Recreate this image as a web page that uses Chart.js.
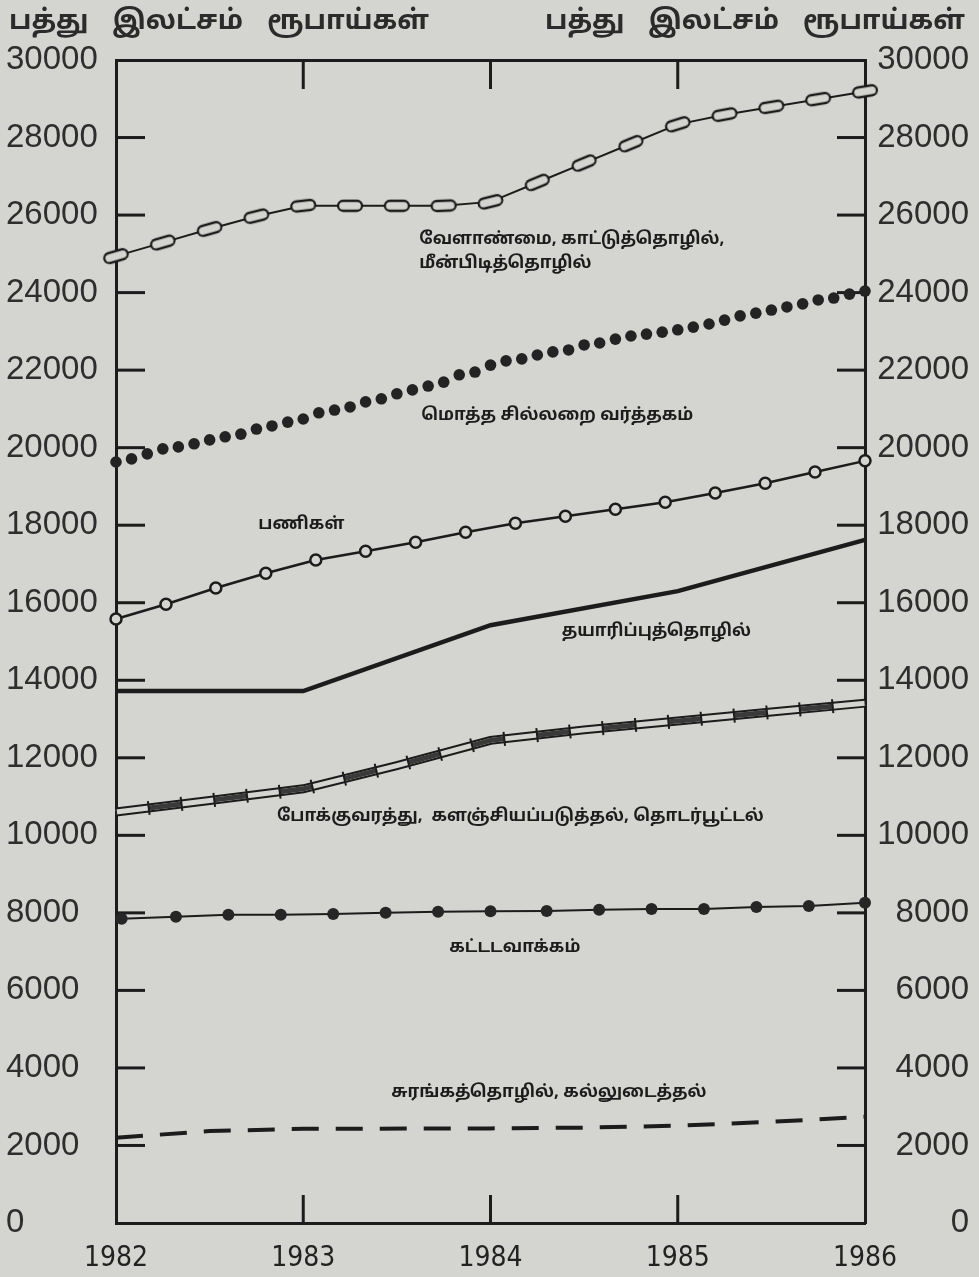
<!DOCTYPE html>
<html>
<head>
<meta charset="utf-8">
<script src="https://cdn.jsdelivr.net/npm/chart.js@4.4.1/dist/chart.umd.min.js"></script>
<style>
  html, body { margin: 0; padding: 0; background: #d4d4d1; }
  #wrap { position: relative; width: 979px; height: 1277px; }
  .unit {
    position: absolute; top: 6px; white-space: nowrap; color: #2b2b2b;
    font: bold 27px 'Noto Sans Tamil', 'Lohit Tamil', 'Noto Sans', sans-serif;
    word-spacing: 17px;
  }
</style>
</head>
<body>
<div id="wrap">
  <canvas id="chart"></canvas>
  <div class="unit" style="left:9px">பத்து இலட்சம் ரூபாய்கள்</div>
  <div class="unit" style="right:14px">பத்து இலட்சம் ரூபாய்கள்</div>
</div>
<script>
// tick labels
const yearLabels = [1982, 1983, 1984, 1985, 1986];
const valueTicks = [0, 2000, 4000, 6000, 8000, 10000, 12000, 14000, 16000, 18000, 20000, 22000, 24000, 26000, 28000, 30000];

// series names (written on the chart)
const seriesNames = [
  'வேளாண்மை, காட்டுத்தொழில்,\nமீன்பிடித்தொழில்',
  'மொத்த சில்லறை வர்த்தகம்',
  'பணிகள்',
  'தயாரிப்புத்தொழில்',
  'போக்குவரத்து,  களஞ்சியப்படுத்தல், தொடர்பூட்டல்',
  'கட்டடவாக்கம்',
  'சுரங்கத்தொழில், கல்லுடைத்தல்'
];

// agriculture, forestry, fishing (chain of links)
const agriX = [1982, 1982.25, 1982.5, 1982.75, 1983, 1983.25, 1983.5, 1983.75, 1984,
               1984.25, 1984.5, 1984.75, 1985, 1985.25, 1985.5, 1985.75, 1986];
const agriValues = [24940, 25290, 25640, 25970, 26240, 26240, 26240, 26240, 26340,
                    26840, 27340, 27840, 28340, 28590, 28790, 28990, 29190];

// wholesale & retail trade (monthly dots)
const retailX = [1982.000, 1982.083, 1982.167, 1982.250, 1982.333, 1982.417, 1982.500, 1982.583, 1982.667, 1982.750, 1982.833, 1982.917,
                 1983.000, 1983.083, 1983.167, 1983.250, 1983.333, 1983.417, 1983.500, 1983.583, 1983.667, 1983.750, 1983.833, 1983.917,
                 1984.000, 1984.083, 1984.167, 1984.250, 1984.333, 1984.417, 1984.500, 1984.583, 1984.667, 1984.750, 1984.833, 1984.917,
                 1985.000, 1985.083, 1985.167, 1985.250, 1985.333, 1985.417, 1985.500, 1985.583, 1985.667, 1985.750, 1985.833, 1985.917,
                 1986.000];
const retailValues = [19630, 19710, 19840, 19970, 20020, 20100, 20200, 20280, 20350, 20480, 20560, 20660,
                      20740, 20900, 20970, 21050, 21180, 21260, 21390, 21490, 21590, 21690, 21880, 21950,
                      22130, 22240, 22290, 22390, 22470, 22520, 22650, 22700, 22800, 22880, 22930, 22980,
                      23040, 23110, 23190, 23290, 23400, 23470, 23550, 23630, 23710, 23810, 23860, 23960,
                      24040];

// services (line with open circles)
const servX = [1982.000, 1982.267, 1982.533, 1982.800, 1983.067, 1983.333, 1983.600, 1983.867,
               1984.133, 1984.400, 1984.667, 1984.933, 1985.200, 1985.467, 1985.733, 1986.000];
const servValues = [15580, 15960, 16380, 16760, 17100, 17330, 17560, 17820,
                    18050, 18230, 18410, 18590, 18830, 19080, 19370, 19660];

// manufacturing (heavy line)
const manufX = [1982, 1983, 1984, 1985, 1986];
const manufValues = [13720, 13720, 15420, 16300, 17620];

// transport, storage, communication (double line)
const transX = [1982, 1982.5, 1983, 1983.5, 1984, 1984.5, 1985, 1985.5, 1986];
const transValues = [10600, 10900, 11200, 11800, 12450, 12720, 12950, 13180, 13410];

// construction (line with filled dots)
const constrX = [1982.03, 1982.32, 1982.60, 1982.88, 1983.16, 1983.44, 1983.72, 1984.00,
                 1984.30, 1984.58, 1984.86, 1985.14, 1985.42, 1985.70, 1986.00];
const constrValues = [7850, 7900, 7950, 7950, 7970, 8000, 8030, 8040,
                      8050, 8080, 8100, 8100, 8150, 8180, 8260];

// mining & quarrying (dashed)
const minX = [1982, 1982.5, 1983, 1984, 1984.5, 1985, 1985.5, 1986];
const minValues = [2200, 2370, 2430, 2440, 2460, 2510, 2610, 2740];

const ink = '#1c1c1c';
const paper = '#d4d4d1';
const pts = (xs, ys) => xs.map((x, i) => ({ x: x, y: ys[i] }));

// chain link marker
function makeLink() {
  const c = document.createElement('canvas');
  c.width = 28; c.height = 14;
  const g = c.getContext('2d');
  g.lineWidth = 2.3;
  g.strokeStyle = ink;
  g.fillStyle = paper;
  g.beginPath();
  g.roundRect(2, 2, 24, 10, 5);
  g.fill();
  g.stroke();
  return c;
}
const link = makeLink();

function linkAngle(ctx) {
  const ch = ctx.chart, i = ctx.dataIndex;
  const sx = ch.scales.x, sy = ch.scales.y;
  const a = Math.max(0, i - 1), b = Math.min(agriX.length - 1, i + 1);
  const dx = sx.getPixelForValue(agriX[b]) - sx.getPixelForValue(agriX[a]);
  const dy = sy.getPixelForValue(agriValues[b]) - sy.getPixelForValue(agriValues[a]);
  return Math.atan2(dy, dx) * 180 / Math.PI;
}

// label places, in data units (left edge, middle of text)
const labelSpots = [
  [1983.62, 25350], [1983.63, 20790], [1982.76, 18000], [1984.38, 15220],
  [1982.86, 10470], [1983.78, 7090], [1983.47, 3350]
];

const frameTicks = {
  id: 'frameTicks',
  beforeDatasetsDraw(chart) {
    const { ctx, chartArea: a, scales } = chart;
    ctx.save();
    ctx.strokeStyle = ink;
    ctx.lineWidth = 3;
    const seg = (x1, y1, x2, y2) => { ctx.beginPath(); ctx.moveTo(x1, y1); ctx.lineTo(x2, y2); ctx.stroke(); };
    valueTicks.slice(1, -1).forEach(v => {
      const y = scales.y.getPixelForValue(v);
      seg(a.left, y, a.left + 29, y);
      seg(a.right - 28, y, a.right, y);
    });
    yearLabels.slice(1, -1).forEach(yr => {
      const x = scales.x.getPixelForValue(yr);
      seg(x, a.top, x, a.top + 29);
      seg(x, a.bottom - 28, x, a.bottom);
    });
    ctx.restore();
  },
  afterDatasetsDraw(chart) {
    const { ctx, scales } = chart;
    ctx.save();
    ctx.fillStyle = ink;
    ctx.font = "bold 17px 'Noto Sans Tamil', 'Lohit Tamil', 'Noto Sans', sans-serif";
    ctx.textAlign = 'left';
    ctx.textBaseline = 'middle';
    seriesNames.forEach((name, k) => {
      const x = scales.x.getPixelForValue(labelSpots[k][0]);
      const y = scales.y.getPixelForValue(labelSpots[k][1]);
      name.split('\n').forEach((line, j) => ctx.fillText(line, x, y + j * 24));
    });
    ctx.restore();
  }
};

const numFont = { family: "'Liberation Sans', Arimo, sans-serif", size: 33 };

new Chart(document.getElementById('chart'), {
  type: 'line',
  data: {
    datasets: [
      { label: 'agri', data: pts(agriX, agriValues), borderColor: ink, borderWidth: 2,
        pointStyle: link, pointRadius: 7, pointRotation: linkAngle, order: 1 },
      { label: 'retail', data: pts(retailX, retailValues), showLine: false,
        pointRadius: 5.8, pointBackgroundColor: '#232323', pointBorderWidth: 0, order: 2 },
      { label: 'services', data: pts(servX, servValues), borderColor: ink, borderWidth: 2.5,
        pointRadius: 5.5, pointBackgroundColor: paper, pointBorderColor: ink, pointBorderWidth: 2.5, order: 3 },
      { label: 'manuf', data: pts(manufX, manufValues), borderColor: ink, borderWidth: 4.5,
        pointRadius: 0, order: 4 },
      { label: 'trans-outer', data: pts(transX, transValues), borderColor: ink, borderWidth: 9,
        pointRadius: 0, order: 14 },
      { label: 'trans-inner', data: pts(transX, transValues), borderColor: paper, borderWidth: 5,
        pointRadius: 0, order: 13 },
      { label: 'trans-fill', data: pts(transX, transValues), borderColor: '#3a3a3a', borderWidth: 5,
        borderDash: [33, 33], borderDashOffset: 33, pointRadius: 0, order: 12 },
      { label: 'trans-bars', data: pts(transX, transValues), borderColor: ink, borderWidth: 14,
        borderDash: [2, 31], borderDashOffset: 1, pointRadius: 0, order: 11 },
      { label: 'constr', data: pts(constrX, constrValues), borderColor: ink, borderWidth: 2,
        pointRadius: 6, pointBackgroundColor: '#262626', pointBorderWidth: 0, order: 5 },
      { label: 'mining', data: pts(minX, minValues), borderColor: ink, borderWidth: 4,
        borderDash: [27, 17], pointRadius: 0, order: 6 }
    ]
  },
  options: {
    responsive: true,
    maintainAspectRatio: false,
    animation: false,
    events: [],
    clip: false,
    layout: { padding: { left: 6, right: 10, top: 0, bottom: 0 } },
    plugins: { legend: { display: false }, tooltip: { enabled: false } },
    scales: {
      x: {
        type: 'linear', position: 'bottom', min: 1982, max: 1986,
        afterBuildTicks: s => { s.ticks = yearLabels.map(v => ({ value: v })); },
        ticks: {
          callback: v => String(v), autoSkip: false, maxRotation: 0, padding: 19, color: '#222',
          font: { family: "'Liberation Sans Narrow', 'DejaVu Sans Condensed', sans-serif", size: 28 }
        },
        grid: { display: false, drawTicks: false },
        border: { display: true, width: 3, color: ink },
        afterFit: s => { s.height = 54; }
      },
      x2: {
        type: 'linear', position: 'top', min: 1982, max: 1986,
        ticks: { display: false },
        grid: { display: false, drawTicks: false },
        border: { display: true, width: 3, color: ink },
        afterFit: s => { s.height = 60; }
      },
      y: {
        type: 'linear', position: 'left', min: 0, max: 30000,
        afterBuildTicks: s => { s.ticks = valueTicks.map(v => ({ value: v })); },
        ticks: { callback: v => String(v), crossAlign: 'far', autoSkip: false, color: '#2e2e2e', font: numFont },
        grid: { display: false, drawTicks: false },
        border: { display: true, width: 3, color: ink },
        afterFit: s => { s.width = 110; }
      },
      y2: {
        type: 'linear', position: 'right', min: 0, max: 30000,
        afterBuildTicks: s => { s.ticks = valueTicks.map(v => ({ value: v })); },
        ticks: { callback: v => String(v), crossAlign: 'far', autoSkip: false, color: '#2e2e2e', font: numFont },
        grid: { display: false, drawTicks: false },
        border: { display: true, width: 3, color: ink },
        afterFit: s => { s.width = 104; }
      }
    }
  },
  plugins: [frameTicks]
});
</script>
</body>
</html>
